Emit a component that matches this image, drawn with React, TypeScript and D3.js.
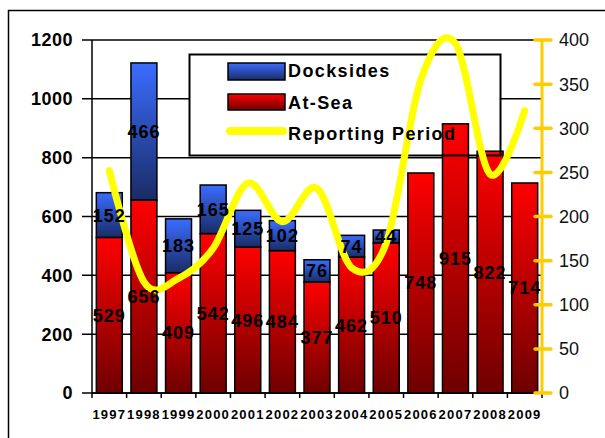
import React from 'react';
import * as d3 from 'd3';

const years = ['1997', '1998', '1999', '2000', '2001', '2002', '2003', '2004', '2005', '2006', '2007', '2008', '2009'];
const atSea = [529, 656, 409, 542, 496, 484, 377, 462, 510, 748, 915, 822, 714];
const docksides = [152, 466, 183, 165, 125, 102, 76, 74, 44, 0, 0, 0, 0];
const reporting = [252, 126, 130, 164, 238, 194, 232, 142, 170, 355, 396, 248, 320];
const leftTicks = [0, 200, 400, 600, 800, 1000, 1200];
const rightTicks = [0, 50, 100, 150, 200, 250, 300, 350, 400];

const W = 605;
const H = 438;
const plot = { left: 92, right: 542, top: 40, bottom: 393 };

const App = () => {
  const x = d3
    .scaleBand()
    .domain(years)
    .range([plot.left, plot.right])
    .paddingInner(0.25)
    .paddingOuter(0.125);
  const y = d3.scaleLinear().domain([0, 1200]).range([plot.bottom, plot.top]);
  const y2 = d3.scaleLinear().domain([0, 400]).range([plot.bottom, plot.top]);
  const step = x.step();
  const bw = x.bandwidth();

  const line = d3
    .line<number>()
    .x((d, i) => (x(years[i]) as number) + bw / 2)
    .y((d) => y2(d))
    .curve(d3.curveCardinal.tension(0));

  const boldFont = 'Arial, "Liberation Sans", sans-serif';

  return (
    <svg width={W} height={H} style={{ position: 'absolute', left: 0, top: 0, background: '#fff' }}>
      <defs>
        <linearGradient id="red" x1="0" y1="0" x2="0" y2="1">
          <stop offset="0" stopColor="#ff0000" />
          <stop offset="1" stopColor="#6e0000" />
        </linearGradient>
        <linearGradient id="blue" x1="0" y1="0" x2="0" y2="1">
          <stop offset="0" stopColor="#3a6cff" />
          <stop offset="1" stopColor="#1a2c66" />
        </linearGradient>
      </defs>

      {/* outer frame */}
      <rect x={8.5} y={10.5} width={620} height={450} fill="#fff" stroke="#000" strokeWidth={1.5} />

      {/* gridlines + left ticks */}
      {leftTicks.map((t) => (
        <line key={'g' + t} x1={plot.left - 10} x2={plot.right} y1={y(t)} y2={y(t)} stroke="#000" strokeWidth={1.5} />
      ))}

      {/* legend background */}
      <rect x={189.5} y={54.5} width={311} height={101} fill="#fff" />

      {/* bars */}
      {years.map((yr, i) => {
        const x0 = x(yr) as number;
        return (
          <g key={'b' + yr}>
            <rect x={x0} y={y(atSea[i])} width={bw} height={y(0) - y(atSea[i])} fill="url(#red)" stroke="#000" strokeWidth={1.5} />
            {docksides[i] > 0 && (
              <rect
                x={x0}
                y={y(atSea[i] + docksides[i])}
                width={bw}
                height={y(atSea[i]) - y(atSea[i] + docksides[i])}
                fill="url(#blue)"
                stroke="#000"
                strokeWidth={1.5}
              />
            )}
          </g>
        );
      })}

      {/* legend border */}
      <rect x={189.5} y={54.5} width={311} height={101} fill="none" stroke="#000" strokeWidth={2} />

      {/* left axis */}
      <line x1={plot.left} x2={plot.left} y1={plot.top} y2={plot.bottom} stroke="#000" strokeWidth={1.5} />
      {leftTicks.map((t) => (
        <text
          key={'l' + t}
          x={73}
          y={y(t)}
          dy="0.36em"
          textAnchor="end"
          fontFamily={boldFont}
          fontWeight="bold"
          fontSize={18}
          letterSpacing={0.5}
          fill="#000"
        >
          {t}
        </text>
      ))}

      {/* x axis */}
      <line x1={plot.left} x2={plot.right} y1={plot.bottom} y2={plot.bottom} stroke="#000" strokeWidth={1.5} />
      {d3.range(years.length + 1).map((i) => (
        <line
          key={'xt' + i}
          x1={plot.left + i * step}
          x2={plot.left + i * step}
          y1={plot.bottom}
          y2={plot.bottom + 5}
          stroke="#000"
          strokeWidth={1.5}
        />
      ))}
      {years.map((yr) => (
        <text
          key={'xl' + yr}
          x={(x(yr) as number) + bw / 2}
          y={419}
          textAnchor="middle"
          fontFamily={boldFont}
          fontWeight="bold"
          fontSize={13}
          letterSpacing={1.2}
          fill="#000"
        >
          {yr}
        </text>
      ))}

      {/* right axis */}
      <line x1={plot.right} x2={plot.right} y1={plot.top} y2={plot.bottom} stroke="#ffcc00" strokeWidth={3} />
      {rightTicks.map((t) => (
        <g key={'r' + t}>
          <line x1={plot.right - 7} x2={plot.right + 9} y1={y2(t)} y2={y2(t)} stroke="#ffcc00" strokeWidth={3.5} strokeLinecap="round" />
          <text x={559} y={y2(t)} dy="0.36em" fontFamily={boldFont} fontSize={18} fill="#111">
            {t}
          </text>
        </g>
      ))}

      {/* reporting period line */}
      <path d={line(reporting) || ''} fill="none" stroke="#ffff00" strokeWidth={7} strokeLinecap="round" strokeLinejoin="round" />

      {/* value labels */}
      {years.map((yr, i) => {
        const cx = (x(yr) as number) + bw / 2;
        return (
          <g key={'v' + yr} fontFamily={boldFont} fontWeight="bold" fontSize={18} letterSpacing={1} textAnchor="middle" fill="#000">
            <text x={cx} y={y(atSea[i] / 2)} dy="0.36em">
              {atSea[i]}
            </text>
            {docksides[i] > 0 && (
              <text x={cx} y={y(atSea[i] + docksides[i] / 2)} dy="0.36em">
                {docksides[i]}
              </text>
            )}
          </g>
        );
      })}

      {/* legend contents */}
      <rect x={228} y={63} width={57} height={17} fill="url(#blue)" stroke="#000" strokeWidth={1.5} />
      <rect x={228} y={94} width={57} height={16} fill="url(#red)" stroke="#000" strokeWidth={1.5} />
      <line x1={230} x2={283} y1={131} y2={131} stroke="#ffff00" strokeWidth={8} strokeLinecap="round" />
      <g fontFamily={boldFont} fontWeight="bold" fontSize={18} letterSpacing={1.4} fill="#000">
        <text x={288} y={77}>Docksides</text>
        <text x={288} y={109}>At-Sea</text>
        <text x={288} y={140}>Reporting Period</text>
      </g>
    </svg>
  );
};

export default App;
